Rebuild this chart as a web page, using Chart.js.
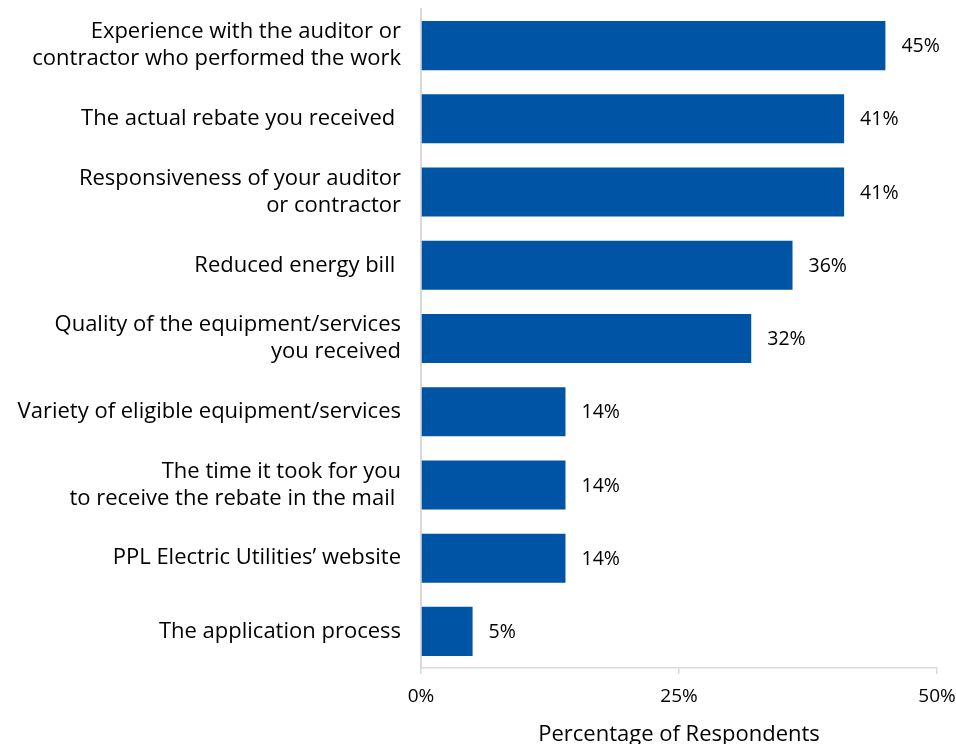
<!DOCTYPE html>
<html>
<head>
<meta charset="utf-8">
<script src="https://cdn.jsdelivr.net/npm/chart.js@4/dist/chart.umd.min.js"></script>
<style>
  html, body { margin: 0; padding: 0; background: #fff; }
  #wrap { width: 956px; height: 744px; }
</style>
</head>
<body>
<div id="wrap"><canvas id="c" width="956" height="744"></canvas></div>
<script>
// Satisfaction drivers, top to bottom
const categories = [
  ["Experience with the auditor or", "contractor who performed the work"],
  "The actual rebate you received ",
  ["Responsiveness of your auditor", "or contractor"],
  "Reduced energy bill ",
  ["Quality of the equipment/services", "you received"],
  "Variety of eligible equipment/services",
  ["The time it took for you", "to receive the rebate in the mail "],
  "PPL Electric Utilities\u2019 website",
  "The application process"
];
const percentages = [45, 41, 41, 36, 32, 14, 14, 14, 5];
const axisTicks = [0, 25, 50];

const FONT = "'Open Sans', Lato, sans-serif";
const AXIS_GREY = "#d9d9d9";

// Writes each bar's percentage just past its end
const valueLabels = {
  id: "valueLabels",
  afterDatasetsDraw(chart) {
    const ctx = chart.ctx;
    const meta = chart.getDatasetMeta(0);
    ctx.save();
    ctx.font = "19.5px " + FONT;
    ctx.fillStyle = "#000";
    ctx.textAlign = "left";
    ctx.textBaseline = "middle";
    meta.data.forEach((bar, i) => {
      ctx.fillText(percentages[i] + "%", bar.x + 16, bar.y + 1);
    });
    ctx.restore();
  }
};

new Chart(document.getElementById("c"), {
  type: "bar",
  data: {
    labels: categories,
    datasets: [{
      data: percentages,
      backgroundColor: "#0054a6",
      borderWidth: 0,
      categoryPercentage: 1.0,
      barPercentage: 0.67
    }]
  },
  options: {
    indexAxis: "y",
    responsive: false,
    animation: false,
    layout: { padding: { top: 9, right: 19, left: 0, bottom: 0 } },
    plugins: {
      legend: { display: false },
      tooltip: { enabled: false }
    },
    scales: {
      x: {
        min: 0,
        max: 50,
        afterBuildTicks(scale) {
          scale.ticks = axisTicks.map(v => ({ value: v }));
        },
        afterFit(scale) {
          scale.height = 76;
          scale.paddingLeft = 0;
          scale.paddingRight = 0;
        },
        grid: {
          drawOnChartArea: false,
          drawTicks: true,
          tickLength: 6,
          color: AXIS_GREY,
          lineWidth: 1.5
        },
        border: { display: true, color: AXIS_GREY, width: 1.5 },
        ticks: {
          padding: 11,
          color: "#000",
          font: { family: FONT, size: 19 },
          callback: v => v + "%"
        },
        title: {
          display: true,
          text: "Percentage of Respondents",
          color: "#000",
          font: { family: FONT, size: 22 },
          // sits low, descenders run past the lower edge
          padding: { top: 12, bottom: -4 }
        }
      },
      y: {
        afterFit(scale) {
          scale.width = 421;
          scale.paddingTop = 0;
          scale.paddingBottom = 0;
        },
        grid: { display: false, drawTicks: false },
        border: { display: true, color: AXIS_GREY, width: 2 },
        ticks: {
          padding: 20,
          color: "#000",
          font: { family: FONT, size: 22, lineHeight: 1.23 }
        }
      }
    }
  },
  plugins: [valueLabels]
});
</script>
</body>
</html>
